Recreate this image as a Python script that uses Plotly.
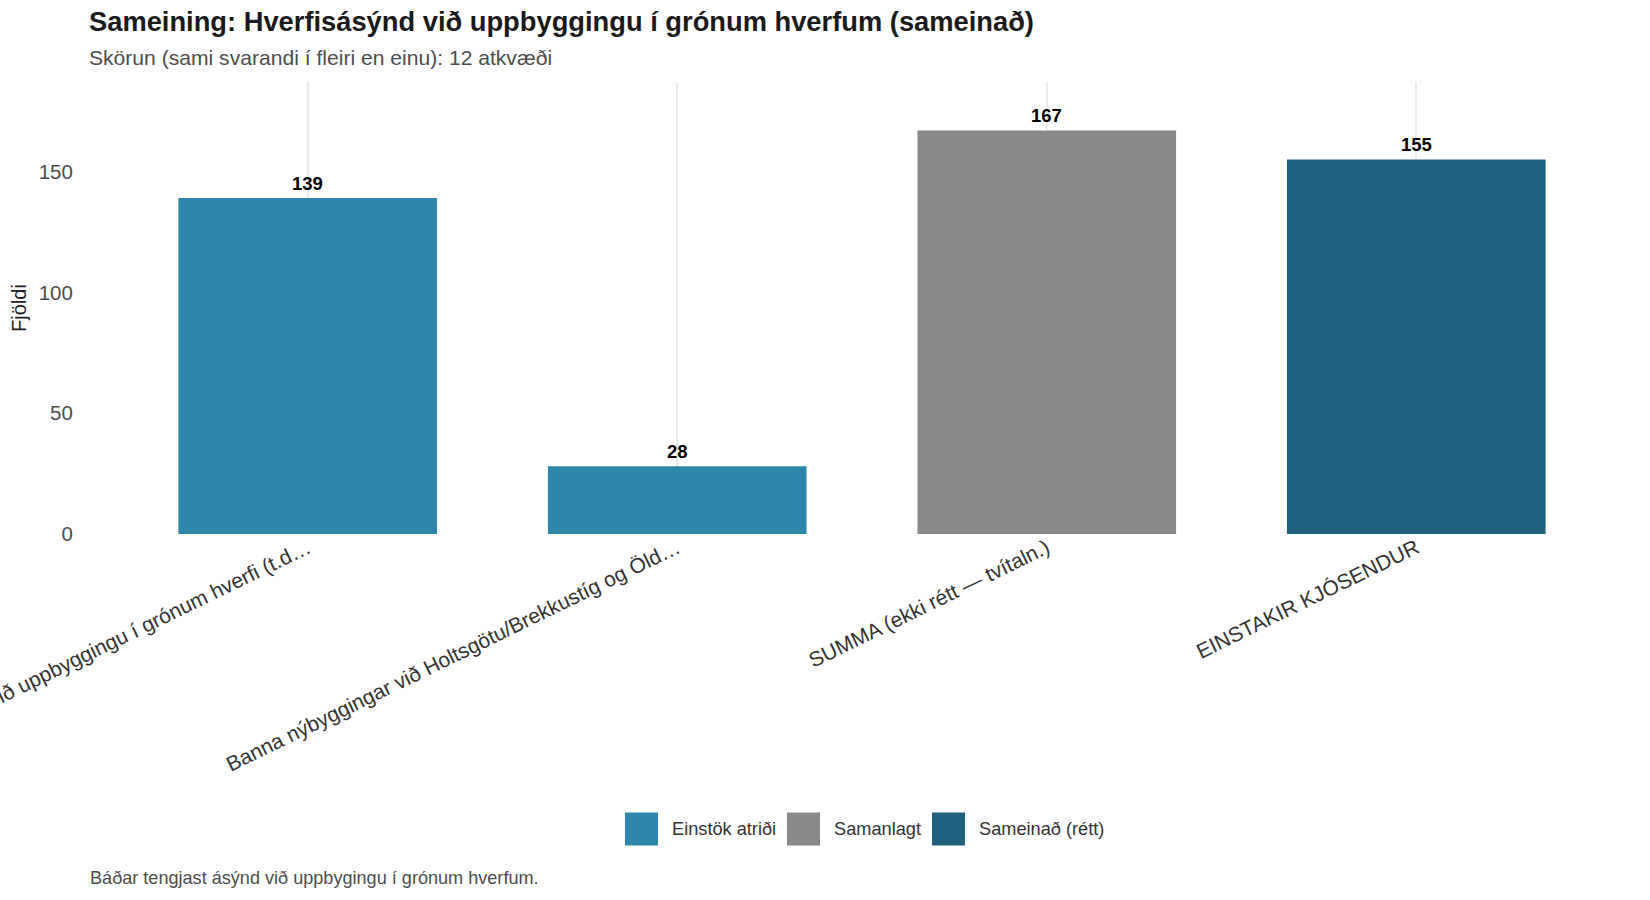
import plotly.graph_objects as go

# ---- data ----
categories = [
    "Hverfisásýnd við uppbyggingu í grónum hverfi (t.d…",
    "Banna nýbyggingar við Holtsgötu/Brekkustíg og Öld…",
    "SUMMA (ekki rétt — tvítaln.)",
    "EINSTAKIR KJÓSENDUR",
]
values = [139, 28, 167, 155]
groups = ["Einstök atriði", "Einstök atriði", "Samanlagt", "Sameinað (rétt)"]
group_order = ["Einstök atriði", "Samanlagt", "Sameinað (rétt)"]
group_colors = {"Einstök atriði": "#2E86AB", "Samanlagt": "#898989", "Sameinað (rétt)": "#20627E"}
y_ticks = [0, 50, 100, 150]

title = "Sameining: Hverfisásýnd við uppbyggingu í grónum hverfum (sameinað)"
subtitle = "Skörun (sami svarandi í fleiri en einu): 12 atkvæði"
caption = "Báðar tengjast ásýnd við uppbygingu í grónum hverfum."
y_title = "Fjöldi"

FONT = "Liberation Sans, Arial, Helvetica, sans-serif"
W, H = 1650, 900
ML, MR, MT, MB = 86, 12, 82, 366
plot_h = H - MT - MB
plot_w = W - ML - MR


def py(px):
    """pixel y (from top) -> paper y"""
    return (H - MB - px) / plot_h


def px_x(px):
    return (px - ML) / plot_w


fig = go.Figure()

for g in group_order:
    xs = [c for c, gg in zip(categories, groups) if gg == g]
    ys = [v for v, gg in zip(values, groups) if gg == g]
    fig.add_trace(go.Bar(
        x=xs, y=ys, name=g, width=0.7,
        marker=dict(color=group_colors[g], line=dict(width=0)),
        showlegend=False, hoverinfo="x+y",
    ))

annotations = []
for c, v in zip(categories, values):
    annotations.append(dict(
        x=c, y=v, xref="x", yref="y", text=str(v), showarrow=False,
        yanchor="bottom", yshift=2,
        font=dict(family=FONT, size=18.5, color="#000000", weight="bold"),
    ))

annotations += [
    dict(text="<b>" + title + "</b>", x=px_x(87), y=py(21.5), xref="paper", yref="paper",
         xanchor="left", yanchor="middle", showarrow=False,
         font=dict(family=FONT, size=27.3, color="#1a1a1a")),
    dict(text=subtitle, x=px_x(87), y=py(57), xref="paper", yref="paper",
         xanchor="left", yanchor="middle", showarrow=False,
         font=dict(family=FONT, size=21.1, color="#4d4d4d")),
    dict(text=caption, x=px_x(88), y=py(878), xref="paper", yref="paper",
         xanchor="left", yanchor="middle", showarrow=False,
         font=dict(family=FONT, size=18.1, color="#4d4d4d")),
]

# ---- legend (drawn as keys + labels, ggplot-like large swatches) ----
legend_key_x = [625, 787, 932]
legend_key_size = 33
legend_mid_y = 829
shapes = []
for g, kx in zip(group_order, legend_key_x):
    shapes.append(dict(
        type="rect", xref="paper", yref="paper",
        x0=px_x(kx), x1=px_x(kx + legend_key_size),
        y0=py(legend_mid_y + legend_key_size / 2), y1=py(legend_mid_y - legend_key_size / 2),
        fillcolor=group_colors[g], line=dict(width=0),
    ))
    annotations.append(dict(
        text=g, x=px_x(kx + legend_key_size + 12), y=py(legend_mid_y),
        xref="paper", yref="paper", xanchor="left", yanchor="middle", showarrow=False,
        font=dict(family=FONT, size=18.2, color="#333333"),
    ))

fig.update_layout(
    width=W, height=H,
    margin=dict(l=ML, r=MR, t=MT, b=MB, autoexpand=False),
    paper_bgcolor="white", plot_bgcolor="white",
    barmode="overlay",
    font=dict(family=FONT, color="#333333"),
    annotations=annotations,
    shapes=shapes,
    showlegend=False,
    xaxis=dict(
        type="category", categoryorder="array", categoryarray=categories,
        range=[-0.6, 3.6], showgrid=True, gridcolor="#ebebeb", gridwidth=1.5,
        zeroline=False, showline=False, automargin=False,
        ticks="", ticklabelstandoff=-3,
        tickangle=-26, tickfont=dict(family=FONT, size=21, color="#333333"),
    ),
    yaxis=dict(
        range=[0, 187.04], tickvals=y_ticks, showgrid=False, zeroline=False,
        showline=False, automargin=False,
        ticks="outside", ticklen=8, tickcolor="rgba(0,0,0,0)",
        tickfont=dict(family=FONT, size=20.5, color="#4d4d4d"),
        title=dict(text=y_title, standoff=6, font=dict(family=FONT, size=20, color="#222222")),
    ),
)

fig.write_html("out.html", config={"displayModeBar": False},
               post_script="document.body.style.margin='0';")
